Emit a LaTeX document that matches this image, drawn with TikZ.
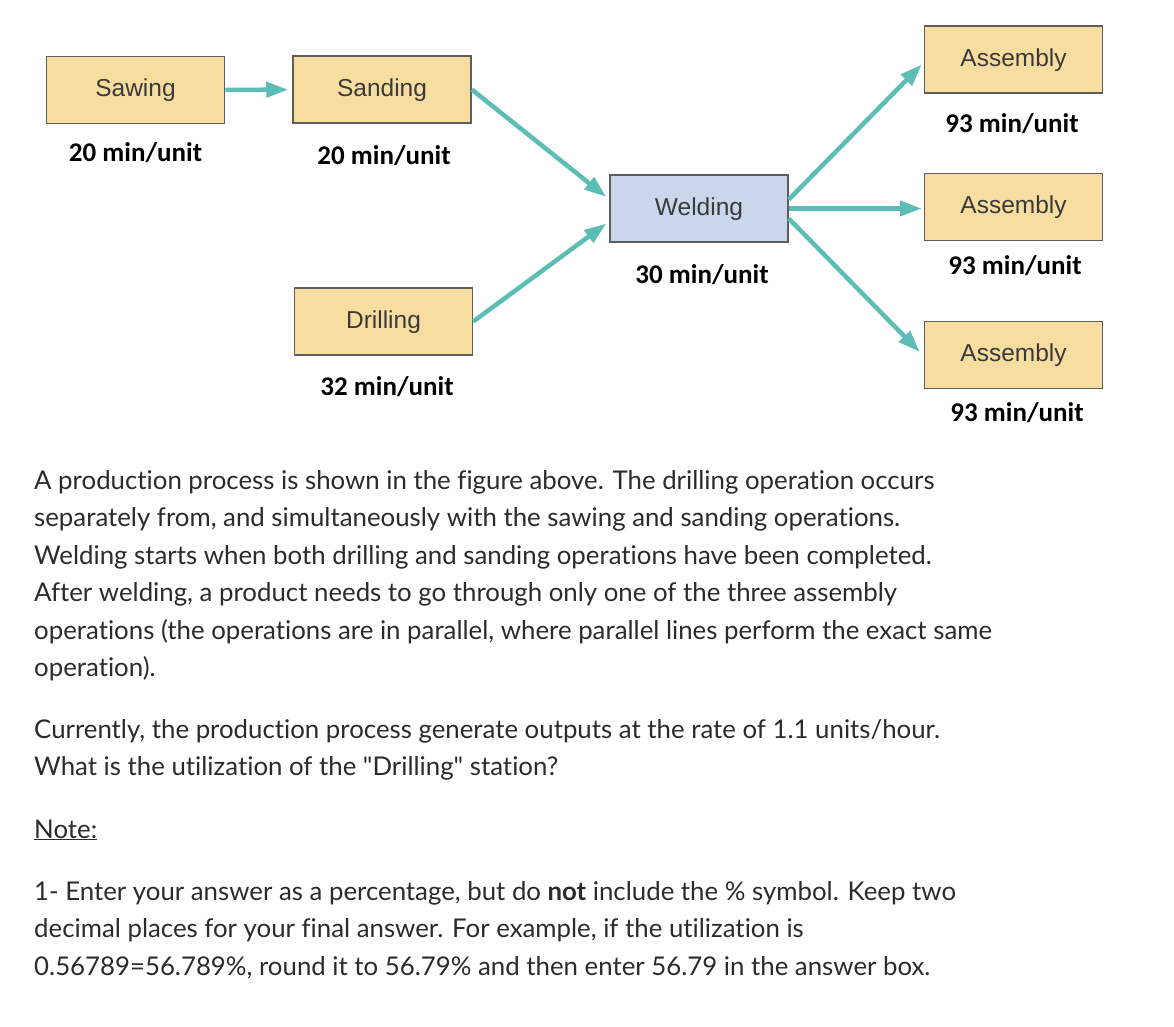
\documentclass[tikz,border=0pt]{standalone}
\usepackage{fontspec}
\setmainfont{Lato}[Ligatures=NoCommon]
\newfontfamily\boxfont{Liberation Sans}
\newfontfamily\ratefont{Carlito}
\usetikzlibrary{positioning,calc,arrows.meta}
\definecolor{stationfill}{HTML}{F8DDA0}
\definecolor{weldfill}{HTML}{C9D6EB}
\definecolor{boxline}{HTML}{5E5E5E}
\definecolor{boxtext}{HTML}{3A3A3A}
\definecolor{flowteal}{HTML}{5BBDB6}
\definecolor{bodytext}{HTML}{2B2B2B}
\tikzset{>={Triangle[length=22pt,width=15pt]}}

\begin{document}
\begin{tikzpicture}[
    x=1pt, y=-1pt,
    station/.style={draw=boxline, line width=1.5pt, fill=stationfill, minimum width=178pt,
      minimum height=67pt, inner sep=0pt, text=boxtext, text height=17pt, text depth=4pt,
      font=\boxfont\fontsize{24.5}{24.5}\selectfont},
    welder/.style={station, fill=weldfill},
    rate/.style={inner sep=0pt, text height=17pt, text depth=0pt,
      font=\ratefont\bfseries\fontsize{27}{27}\selectfont},
    flow/.style={->, draw=flowteal, line width=4.5pt},
    body/.style={anchor=base west, inner sep=0pt, text=bodytext, font=\fontsize{25.8}{37.5}\selectfont}
]
\useasboundingbox (0,0) rectangle (1174,1026);

% stations
\node[station] (sawing) at (135.5,90) {Sawing};
\node[station] (sanding) at (382,89.5) {Sanding};
\node[station] (drilling) at (383.5,321.5) {Drilling};
\node[welder] (welding) at (699,208.5) {Welding};
\node[station] (asm1) at (1013.5,59.5) {Assembly};
\node[station] (asm2) at (1013.5,207) {Assembly};
\node[station] (asm3) at (1013.5,355) {Assembly};

% times
\node[rate, below=20.5pt of sawing] (sawrate) {20 min/unit};
\node[rate, below=23.5pt of sanding, xshift=2pt] (sandrate) {20 min/unit};
\node[rate, below=22.5pt of drilling, xshift=3.5pt] (drillrate) {32 min/unit};
\node[rate, below=23.5pt of welding, xshift=3pt] (weldrate) {30 min/unit};
\node[rate, below=21.5pt of asm1, xshift=-1.5pt] (asmrate1) {93 min/unit};
\node[rate, below=16.5pt of asm2, xshift=1.5pt] (asmrate2) {93 min/unit};
\node[rate, below=15.5pt of asm3, xshift=3.5pt] (asmrate3) {93 min/unit};

% flows
\draw[flow, shorten >=4pt] (sawing) -- (sanding);
\draw[flow] (sanding.east) -- ($(welding.north west)!0.33!(welding.south west)+(-3,0)$);
\draw[flow] (drilling.east) -- ($(welding.north west)!0.72!(welding.south west)+(-3,0)$);
\draw[flow] ($(welding.east)+(0,-9)$) -- ($(asm1.west)+(-2,5)$);
\draw[flow] (welding.east) -- ($(welding.east -| asm2.west)+(-2,0)$);
\draw[flow] ($(welding.east)+(0,10)$) -- ($(asm3.west)+(-4,-3)$);

% question text
\node[body] (q1) at (34,489) {A production process is shown in the figure above. The drilling operation occurs};
\node[body] (q2) at (34,526.5) {separately from, and simultaneously with the sawing and sanding operations.};
\node[body] (q3) at (34,564) {Welding starts when both drilling and sanding operations have been completed.};
\node[body] (q4) at (34,601.5) {After welding, a product needs to go through only one of the three assembly};
\node[body] (q5) at (34,639) {operations (the operations are in parallel, where parallel lines perform the exact same};
\node[body] (q6) at (34,676.5) {operation).};
\node[body] (q7) at (34,738) {Currently, the production process generate outputs at the rate of 1.1 units/hour.};
\node[body] (q8) at (34,775.5) {What is the utilization of the \textquotedbl Drilling\textquotedbl{} station?};
\node[body] (note) at (34,838) {\underline{Note:}};
\node[body] (n1) at (34,900) {1- Enter your answer as a percentage, but do \textbf{not} include the \% symbol. Keep two};
\node[body] (n2) at (34,937.5) {decimal places for your final answer. For example, if the utilization is};
\node[body] (n3) at (34,975) {0.56789=56.789\%, round it to 56.79\% and then enter 56.79 in the answer box.};
\end{tikzpicture}
\end{document}
